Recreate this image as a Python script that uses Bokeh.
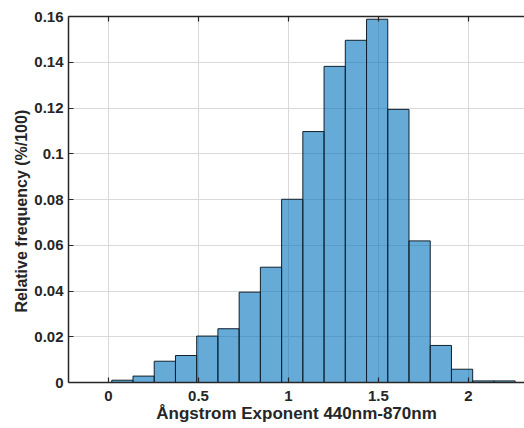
from bokeh.plotting import figure
from bokeh.models import Range1d, LinearAxis, FixedTicker, Title
from bokeh.embed import file_html
from bokeh.resources import INLINE

# Histogram data
bin_edges = [0.018, 0.136, 0.254, 0.372, 0.490, 0.608, 0.726, 0.844, 0.962, 1.080,
             1.198, 1.316, 1.434, 1.552, 1.670, 1.788, 1.906, 2.024, 2.142, 2.260]
rel_freq = [0.0010, 0.0028, 0.0093, 0.0118, 0.0203, 0.0235, 0.0395, 0.0504, 0.0801,
            0.1097, 0.1382, 0.1496, 0.1588, 0.1194, 0.0619, 0.0162, 0.0058, 0.0007, 0.0007]

x_ticks = [0, 0.5, 1, 1.5, 2]
x_tick_labels = ["0", "0.5", "1", "1.5", "2"]
y_ticks = [0, 0.02, 0.04, 0.06, 0.08, 0.1, 0.12, 0.14, 0.16]
y_tick_labels = ["0", "0.02", "0.04", "0.06", "0.08", "0.1", "0.12", "0.14", "0.16"]

x_label = "Ångstrom Exponent 440nm-870nm"
y_label = "Relative frequency (%/100)"

FONT = "Liberation Sans"
AX = "#262626"

p = figure(width=524, height=428, output_backend="svg", toolbar_location=None,
           x_range=Range1d(-0.2225, 2.312), y_range=Range1d(0, 0.16),
           min_border_left=68, min_border_right=0, min_border_top=16, min_border_bottom=46,
           background_fill_color="white", border_fill_color="white")
p.outline_line_color = None

p.quad(left=bin_edges[:-1], right=bin_edges[1:], bottom=0, top=rel_freq,
       fill_color="#0072BD", fill_alpha=0.6, line_color="#10202c", line_width=1)

def style_axis(ax, show_labels=True):
    ax.axis_line_color = AX
    ax.axis_line_width = 1.5
    ax.major_tick_line_color = AX
    ax.major_tick_line_width = 1.2
    ax.major_tick_in = 5
    ax.major_tick_out = 0
    ax.minor_tick_line_color = None
    ax.major_label_text_font = FONT
    ax.major_label_text_font_style = "bold"
    ax.major_label_text_font_size = "15px"
    ax.major_label_text_color = AX if show_labels else None

xa = p.xaxis[0]
xa.ticker = FixedTicker(ticks=x_ticks)
xa.major_label_overrides = {t: l for t, l in zip(x_ticks, x_tick_labels)}
style_axis(xa)
xa.major_label_standoff = 8
xa.axis_label = x_label
xa.axis_label_standoff = 0
xa.axis_label_text_font = FONT
xa.axis_label_text_font_style = "bold"
xa.axis_label_text_font_size = "17px"
xa.axis_label_text_color = AX

ya = p.yaxis[0]
ya.ticker = FixedTicker(ticks=y_ticks)
ya.major_label_overrides = {t: l for t, l in zip(y_ticks, y_tick_labels)}
style_axis(ya)
ya.major_label_standoff = 5

top = LinearAxis(ticker=FixedTicker(ticks=x_ticks))
style_axis(top, show_labels=False)
top.major_label_standoff = 0
p.add_layout(top, "above")

p.add_layout(Title(text=y_label, align="left", offset=70, text_font=FONT,
                   text_font_style="bold", text_font_size="16px", text_color=AX,
                   standoff=4), "left")

p.xgrid.ticker = FixedTicker(ticks=x_ticks)
p.ygrid.ticker = FixedTicker(ticks=y_ticks)
p.grid.grid_line_color = "#d9d9d9"
p.grid.grid_line_width = 1

open("out.html", "w").write(file_html(p, INLINE))
